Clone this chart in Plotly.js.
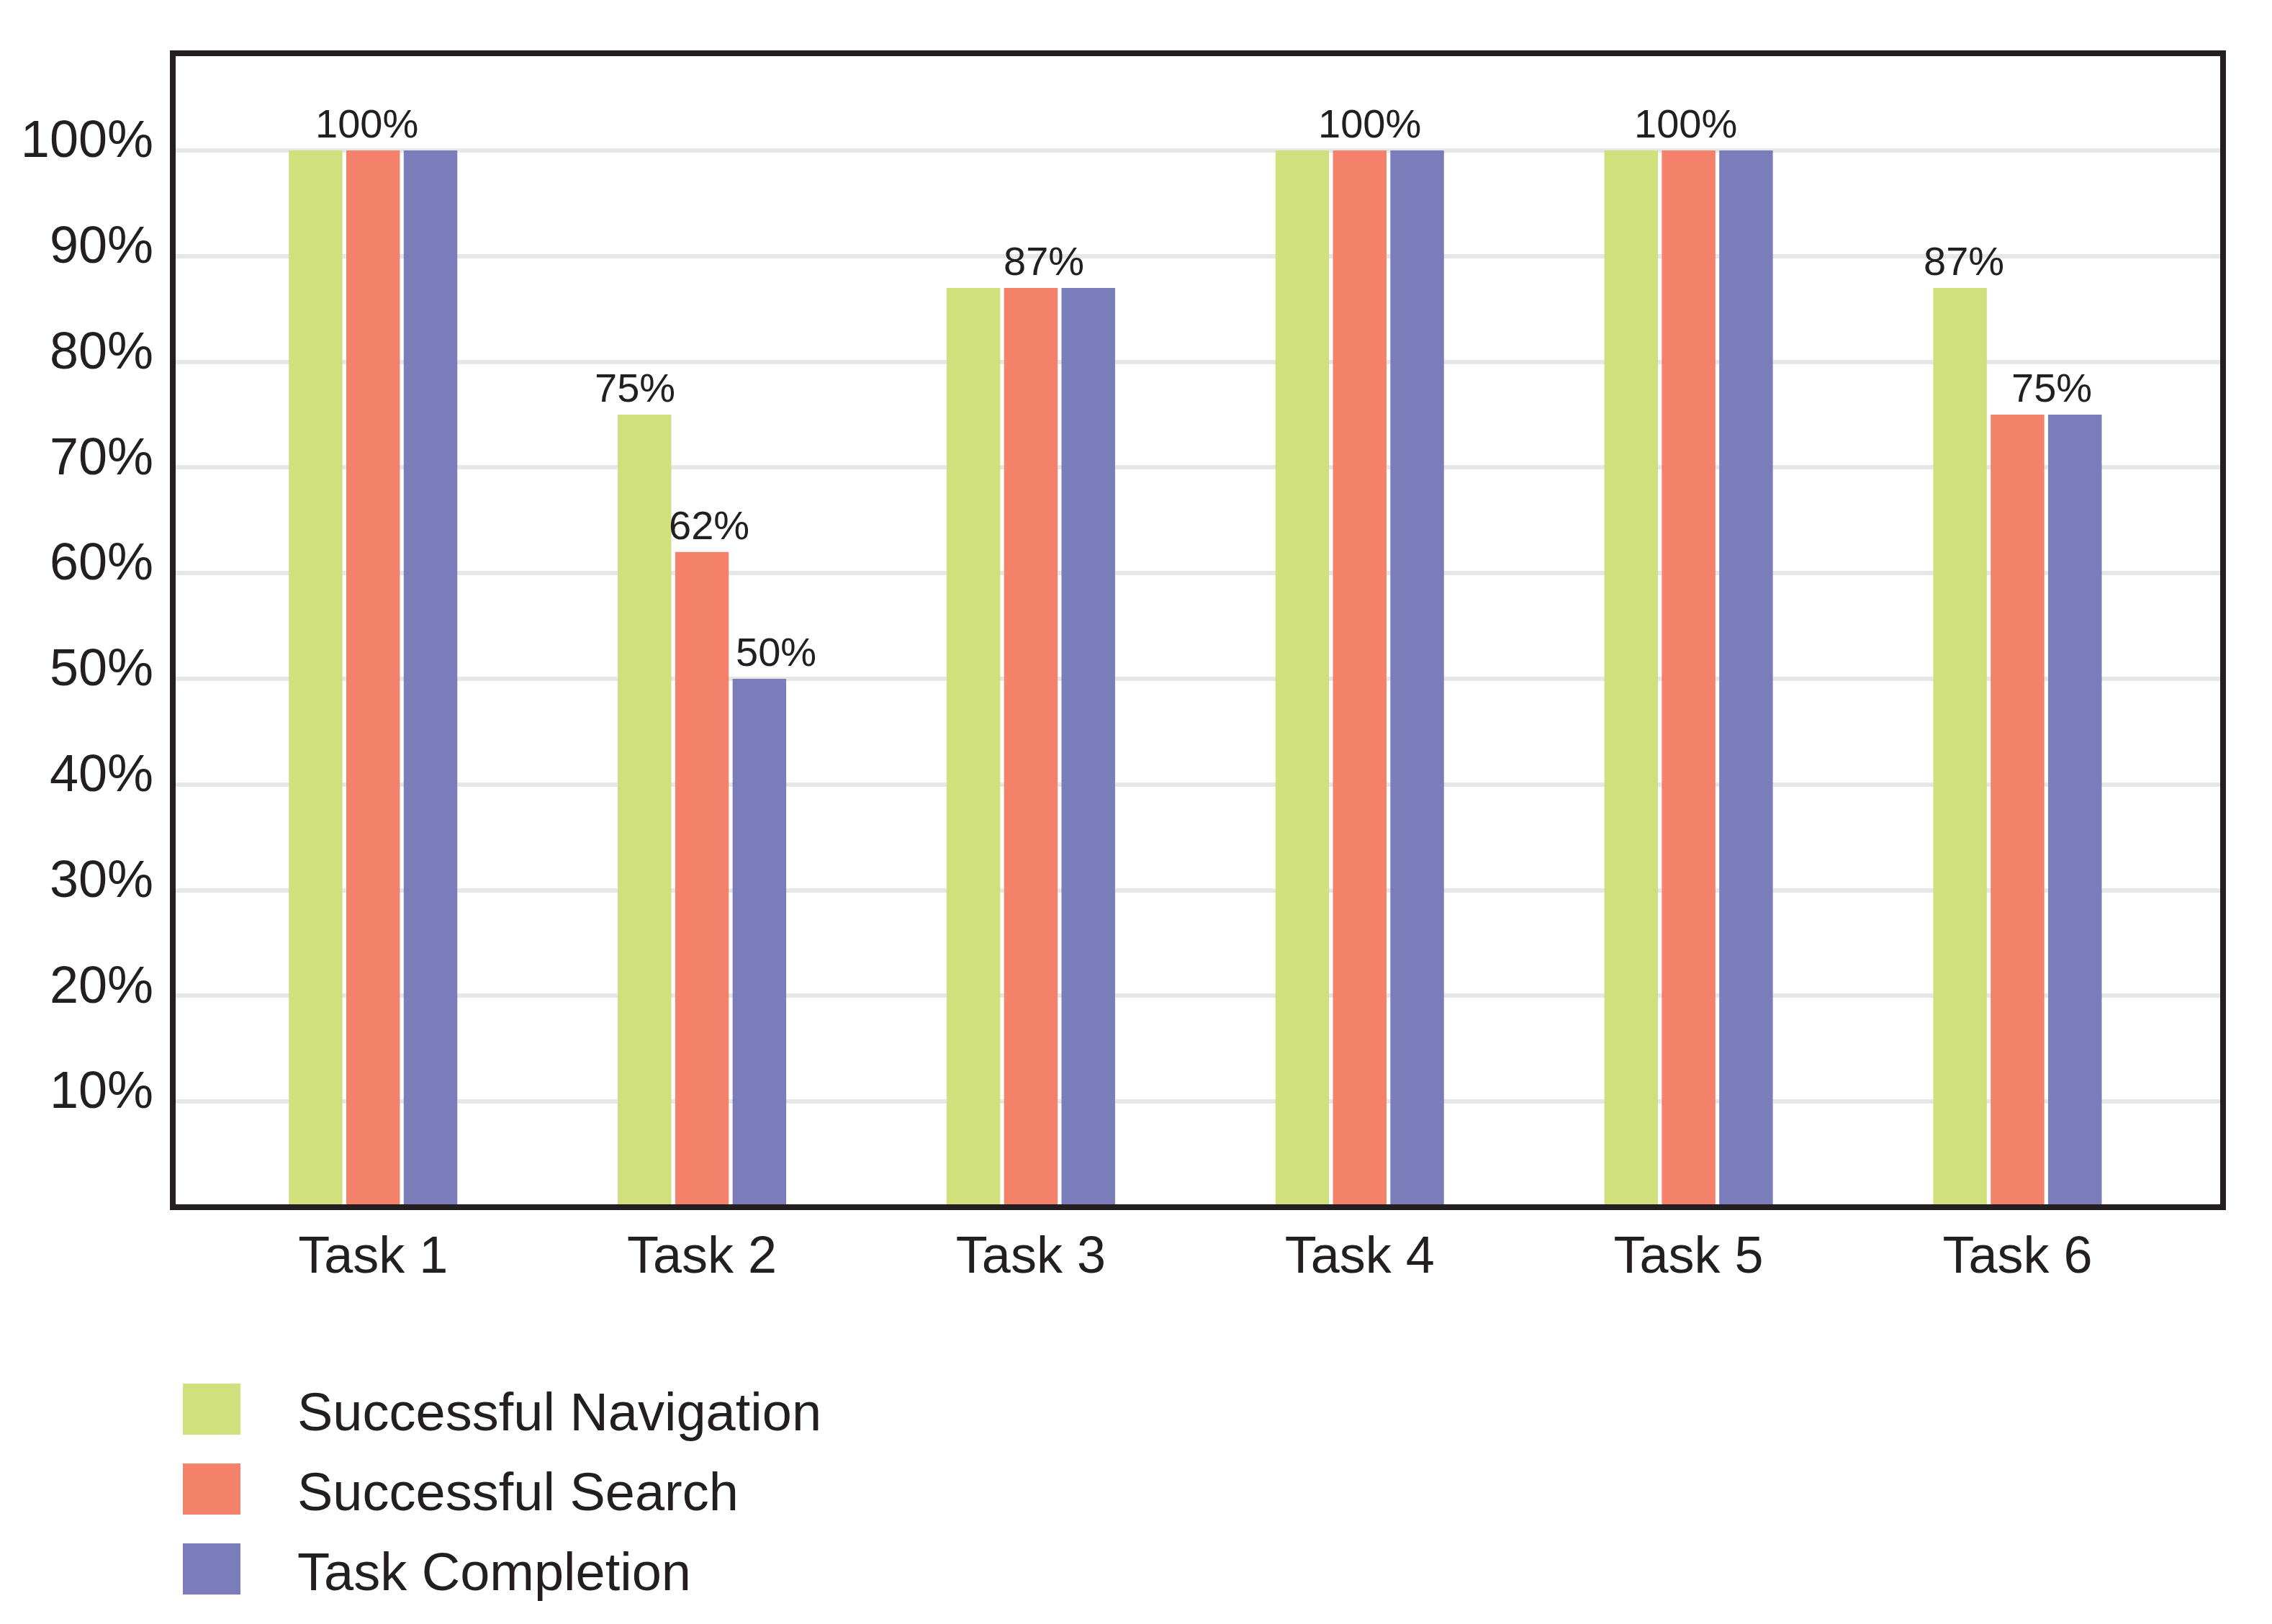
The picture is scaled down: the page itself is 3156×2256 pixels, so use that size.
<!DOCTYPE html>
<html>
<head>
<meta charset="utf-8">
<script src="https://cdn.plot.ly/plotly-3.0.1.min.js"></script>
<style>html,body{margin:0;padding:0;background:#fff;}#chart{width:3156px;height:2256px;}</style>
</head>
<body>
<div id="chart"></div>
<script>
// ---- data ----
const tasks = ["Task 1", "Task 2", "Task 3", "Task 4", "Task 5", "Task 6"];
const seriesNames = ["Successful Navigation", "Successful Search", "Task Completion"];
const navigation = [100, 75, 87, 100, 100, 87];
const search = [100, 62, 87, 100, 100, 75];
const completion = [100, 50, 87, 100, 100, 75];
const yTickValues = [10, 20, 30, 40, 50, 60, 70, 80, 90, 100];
const yTickLabels = ["10%", "20%", "30%", "40%", "50%", "60%", "70%", "80%", "90%", "100%"];
const labelTasks = ["Task 1", "Task 2", "Task 2", "Task 2", "Task 3", "Task 4", "Task 5", "Task 6", "Task 6"];
const labelValues = [100, 75, 62, 50, 87, 100, 100, 87, 75];
const labelTexts = ["100%", "75%", "62%", "50%", "87%", "100%", "100%", "87%", "75%"];

// ---- style ----
const colors = ["#cfe07d", "#f4826b", "#7b7cba"];
const labelXShift = [-9, -93, 10, 103, 18, 14, -4, -74, 48];
const textColor = "#231f20";
const font = "Liberation Sans, Arial, Helvetica, sans-serif";

const W = 3156, H = 2256;
const plotL = 240, plotR = 3088, plotT = 74, plotB = 1677;
const pw = plotR - plotL, ph = plotB - plotT;
const px2x = (x) => (x - plotL) / pw;
const px2y = (y) => (plotB - y) / ph;

const values = [navigation, search, completion];
const traces = values.map((v, i) => ({
  type: "bar",
  name: seriesNames[i],
  x: tasks,
  y: v,
  marker: { color: colors[i], line: { width: 0 } },
  showlegend: false,
  hoverinfo: "skip"
}));

const annotations = labelTexts.map((t, i) => ({
  xref: "x", yref: "y",
  x: labelTasks[i], y: labelValues[i],
  text: t,
  showarrow: false,
  xanchor: "center", yanchor: "bottom",
  xshift: labelXShift[i], yshift: 4,
  font: { family: font, size: 56, color: textColor }
}));

const shapes = [];
// legend (custom, large swatches)
const legTop = 1922, legStep = 111, swH = 71, swL = 254, swR = 334, textX = 411;
seriesNames.forEach((n, i) => {
  const y0 = legTop + i * legStep;
  shapes.push({
    type: "rect", xref: "paper", yref: "paper",
    x0: px2x(swL), x1: px2x(swR), y0: px2y(y0), y1: px2y(y0 + swH),
    fillcolor: colors[i], line: { width: 0 }, layer: "above"
  });
  annotations.push({
    xref: "paper", yref: "paper",
    x: px2x(textX), y: px2y(y0 + swH / 2 + 4),
    text: n, showarrow: false, xanchor: "left", yanchor: "middle",
    font: { family: font, size: 74, color: textColor }
  });
});
// frame
shapes.push({
  type: "rect", xref: "paper", yref: "paper", x0: 0, x1: 1, y0: 0, y1: 1,
  line: { color: textColor, width: 8 }, fillcolor: "rgba(0,0,0,0)", layer: "above"
});

const layout = {
  width: W, height: H,
  margin: { l: plotL, r: W - plotR, t: plotT, b: H - plotB, pad: 0 },
  paper_bgcolor: "#ffffff", plot_bgcolor: "#ffffff",
  barmode: "group", bargap: 0.476, bargroupgap: 0.067,
  showlegend: false,
  font: { family: font, color: textColor },
  xaxis: {
    type: "category", range: [-0.609, 5.625],
    showgrid: false, zeroline: false, showline: false, ticks: "",
    tickfont: { family: font, size: 72, color: textColor },
    ticklabelstandoff: 18
  },
  yaxis: {
    range: [0, 109.2], tickvals: yTickValues, ticktext: yTickLabels,
    showgrid: true, gridcolor: "#e6e7e8", gridwidth: 6,
    zeroline: false, showline: false, ticks: "",
    tickfont: { family: font, size: 72, color: textColor },
    ticklabelstandoff: 26, ticklabelshift: -16
  },
  annotations: annotations,
  shapes: shapes
};

Plotly.newPlot("chart", traces, layout, { staticPlot: true, displayModeBar: false });
</script>
</body>
</html>
